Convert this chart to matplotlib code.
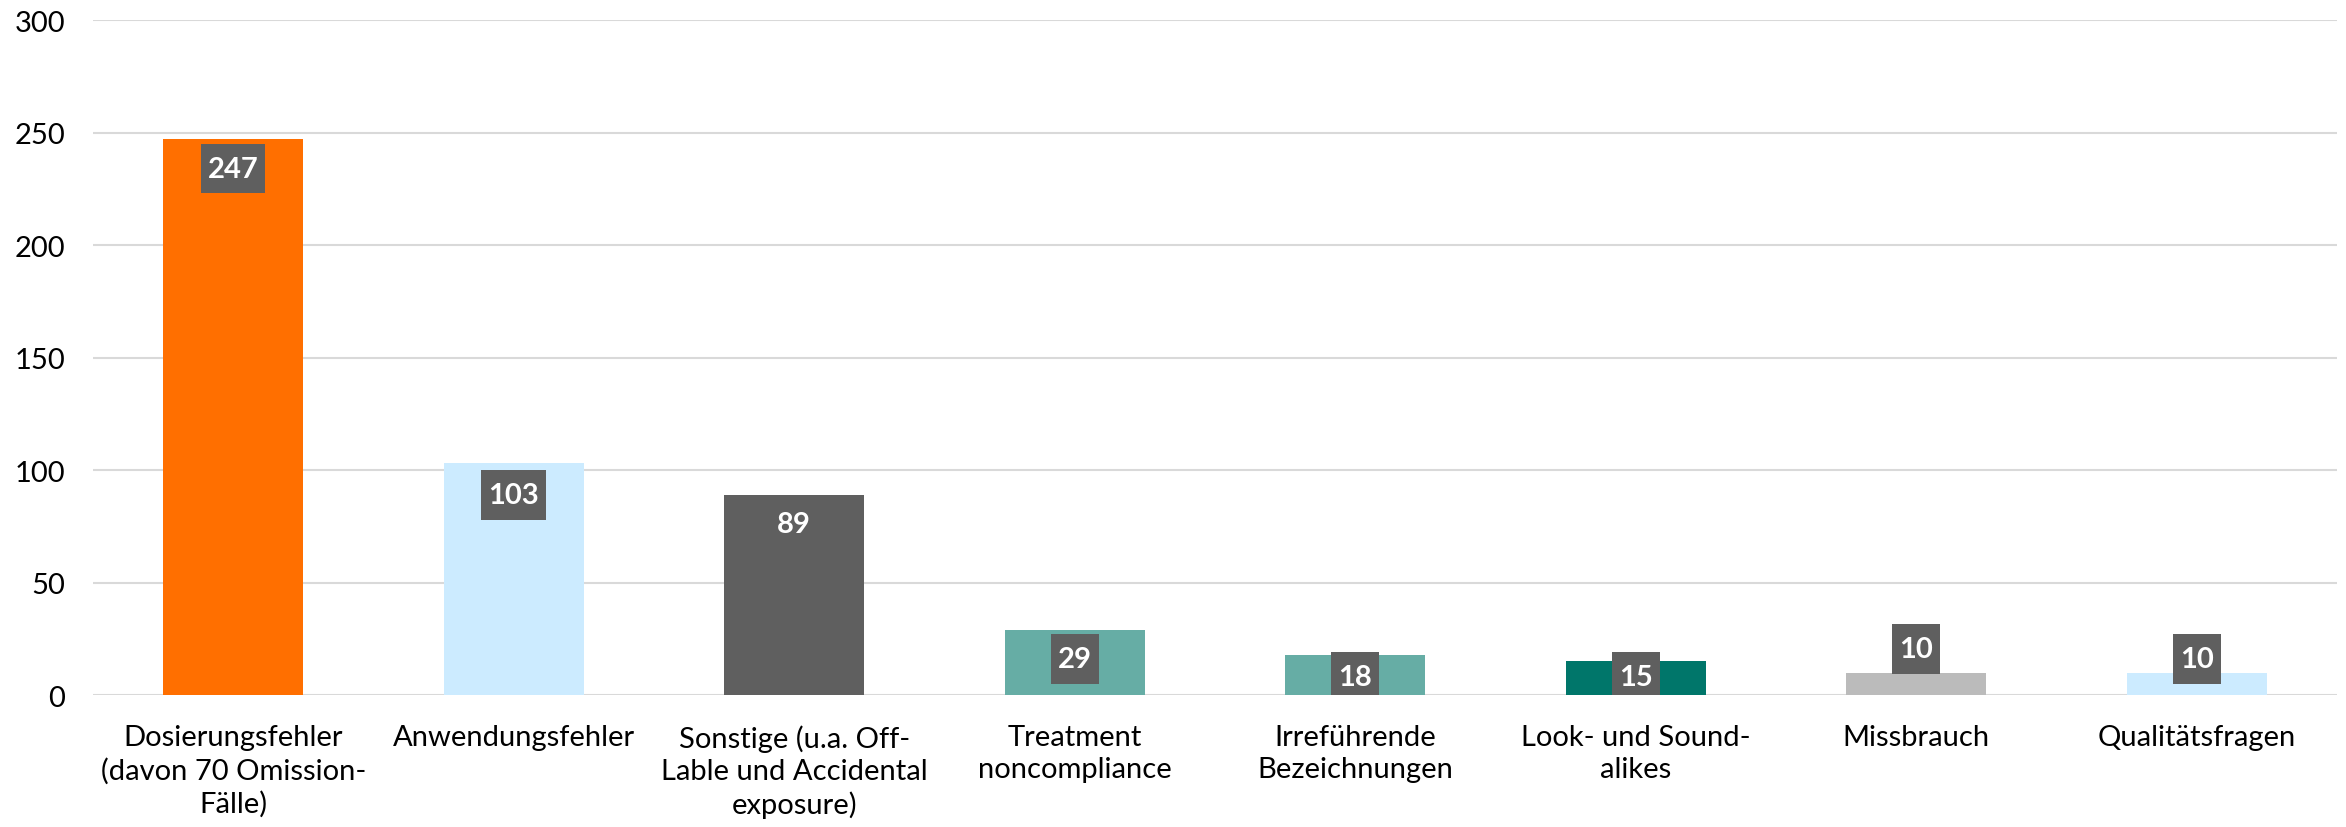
import matplotlib.pyplot as plt
from matplotlib.patches import Rectangle
import numpy as np

# Kategorien und Werte
kategorien = ["Dosierungsfehler\n(davon 70 Omission-\nFälle)", "Anwendungsfehler",
              "Sonstige (u.a. Off-\nLable und Accidental\nexposure)", "Treatment\nnoncompliance",
              "Irreführende\nBezeichnungen", "Look- und Sound-\nalikes", "Missbrauch",
              "Qualitätsfragen"]
werte = [247, 103, 89, 29, 18, 15, 10, 10]
farben = ["#FF6F00", "#CCEBFF", "#5F5F5F", "#66ADA5", "#66ADA5", "#00766A", "#BBBBBB", "#CCEBFF"]
# Position der Beschriftungen (Mitte der Box, in Datenwerten)
label_y = [234, 89, 76, 16, 8, 8, 20.5, 16]

plt.rcParams['font.family'] = ['Lato', 'DejaVu Sans']

fig = plt.figure(figsize=(23.46, 8.28), dpi=100)
ax = fig.add_axes([0.0396, 0.1594, 0.9566, 0.8152])

x = np.arange(len(werte))
ax.bar(x, werte, width=0.5, color=farben, zorder=2)

# Beschriftungen mit grauer Box
for xi, yi, w in zip(x, label_y, werte):
    bw = 0.06 * len(str(w)) + 0.05
    bh = 22
    ax.add_patch(Rectangle((xi - bw / 2, yi - bh / 2), bw, bh, facecolor='#5F5F5F',
                           edgecolor='none', zorder=3))
    ax.text(xi, yi, str(w), ha='center', va='center', color='white', fontsize=21,
            fontweight='bold', zorder=4)

ax.set_xlim(-0.5, len(werte) - 0.5)
ax.set_ylim(0, 300)
ax.set_yticks(range(0, 301, 50))
ax.set_xticks(x)
ax.set_xticklabels(kategorien, fontsize=21, linespacing=1.3)
ax.tick_params(axis='y', labelsize=21, length=0, pad=20)
ax.tick_params(axis='x', length=0, pad=21)
ax.yaxis.grid(True, color='#D9D9D9', linewidth=1.5, zorder=0)
ax.set_axisbelow(True)
for s in ax.spines.values():
    s.set_visible(False)

fig.savefig('out.png', dpi=100)
